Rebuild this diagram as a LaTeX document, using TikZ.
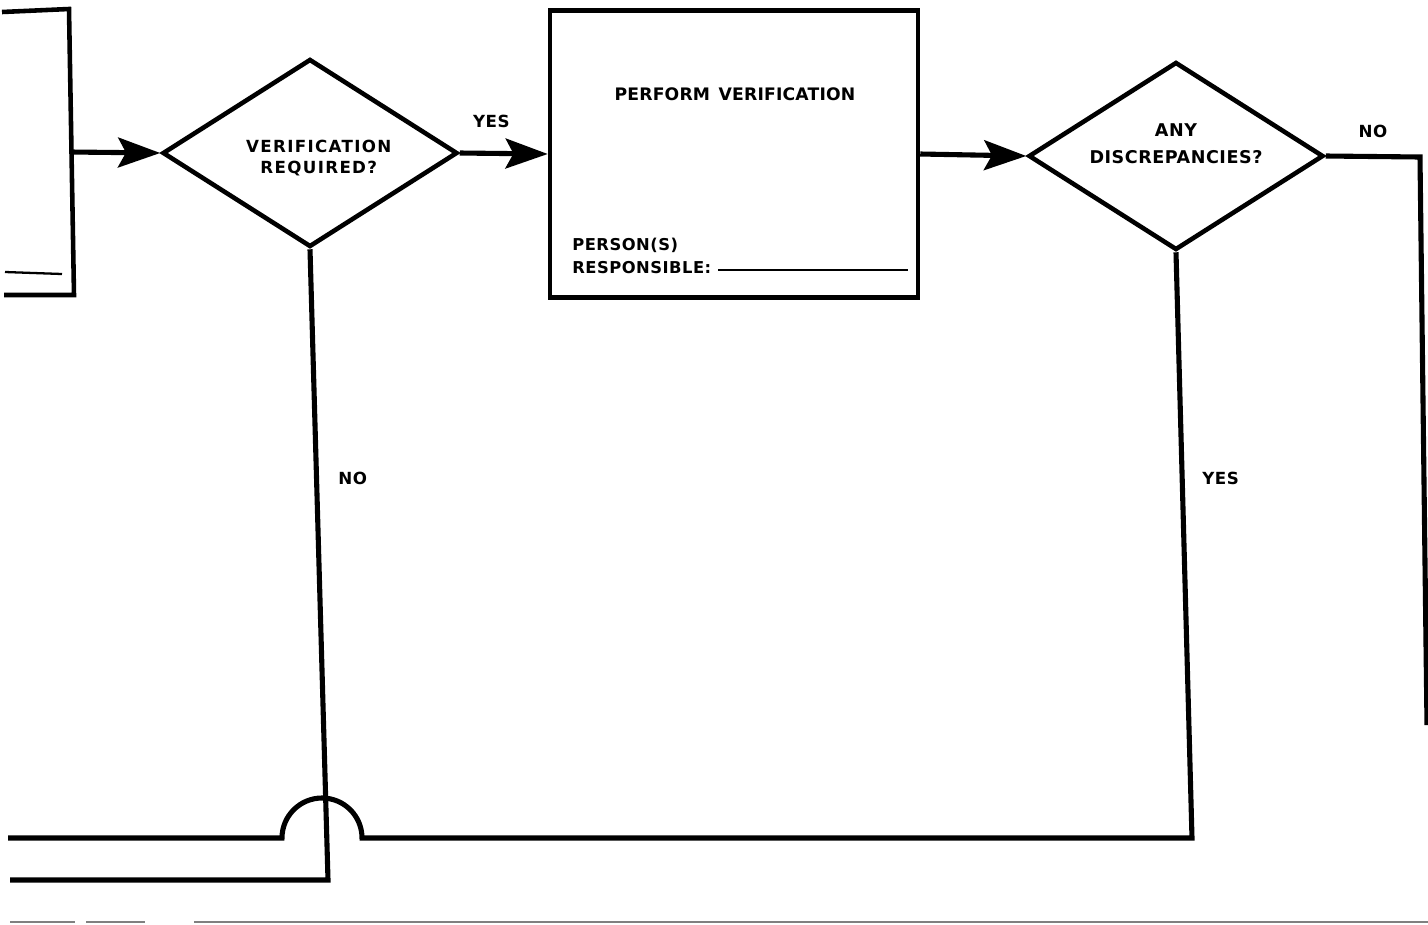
\documentclass[tikz,border=0pt]{standalone}
\usepackage{fontspec}
\setmainfont{DejaVu Sans}
\newfontfamily\chartfont[LetterSpace=3]{DejaVu Sans}
\usetikzlibrary{arrows.meta, shapes.geometric, positioning}

\begin{document}
\begin{tikzpicture}[x=0.02cm, y=-0.02cm,
				shp/.style={draw, black, line width=2.6pt},
				qbox/.style={shp, diamond, aspect=1.57, minimum width=5.9cm, minimum height=3.76cm,
					inner sep=0pt},
				fl/.style={-{Stealth[length=24pt, width=17pt, inset=4.5pt]}, line width=2.9pt},
				ln/.style={line width=2.9pt, line join=miter},
				lbl/.style={inner sep=0pt, align=center, font=\chartfont\bfseries\fontsize{9.5}{13}\selectfont}]
				
				\useasboundingbox (0,0) rectangle (1428,924);
				
				%--- Previous step (cut off at the left edge) ---
				\draw[shp] (2,12) -- (69,9) -- (74,295) -- (4,295);
				\draw[line width=1.3pt] (5,272) -- (62,274);
				\coordinate (prevout) at (71,152);
				
				%--- Decision: verification required? ---
				\node[qbox] (reqd) at (310,153) {};
				\node[lbl, font=\chartfont\bfseries\fontsize{9.5}{12}\selectfont\addfontfeature{LetterSpace=8}]
				(reqdtext) at ([xshift=5pt, yshift=-3pt]reqd.center) {VERIFICATION\\REQUIRED?};
				
				%--- Perform verification ---
				\node[shp, minimum width=7.36cm, minimum height=5.74cm] (perf) at (734,154) {};
				\node[lbl, font=\chartfont\bfseries\fontsize{9.8}{13}\selectfont\addfontfeature{LetterSpace=1}]
				(perftitle) at (735,94) {PERFORM\enspace VERIFICATION};
				\node[lbl, align=left, anchor=north west, font=\chartfont\bfseries\fontsize{9.3}{13}\selectfont]
				(persons) at (572,238) {PERSON(S)\\RESPONSIBLE:};
				\draw[line width=1.2pt] (718,270) -- (908,270);
				
				%--- Decision: any discrepancies? ---
				\node[qbox] (disc) at (1176,156) {};
				\node[lbl, font=\chartfont\bfseries\fontsize{10}{15}\selectfont\addfontfeature{LetterSpace=3}]
				(disctext) at ([yshift=7pt]disc.center) {ANY\\DISCREPANCIES?};
				
				%--- Free ends of the flow lines ---
				\coordinate (noturn) at (1420,157);
				\coordinate (noend) at (1427,725);
				\coordinate (yesturn) at (1192,838);
				\coordinate (yesend) at (8,838);
				\coordinate (skipturn) at (328,880);
				\coordinate (skipend) at (10,880);
				
				%--- Connectors ---
				\draw[fl] (prevout) -- (reqd.west);
				\draw[fl] (reqd.east) -- node[lbl, pos=0.36, above=13pt]{YES} (perf.west);
				\draw[fl] (perf.east) -- (disc.west);
				\draw[ln] (disc.east) -- node[lbl, pos=0.5, above=9.5pt]{NO} (noturn) -- (noend);
				\draw[ln] (disc.south) -- node[lbl, pos=0.386, right=10pt]{YES} (yesturn)
				-- (362,838) arc (0:-180:40) -- (yesend);
				\draw[ln] (reqd.south) -- node[lbl, pos=0.364, right=11pt]{NO} (skipturn) -- (skipend);
				
				%--- Page edge ---
				\draw[gray, line width=0.9pt] (10,922) -- (75,922) (86,922) -- (145,922) (194,922) -- (1428,922);
			\end{tikzpicture}
\end{document}
